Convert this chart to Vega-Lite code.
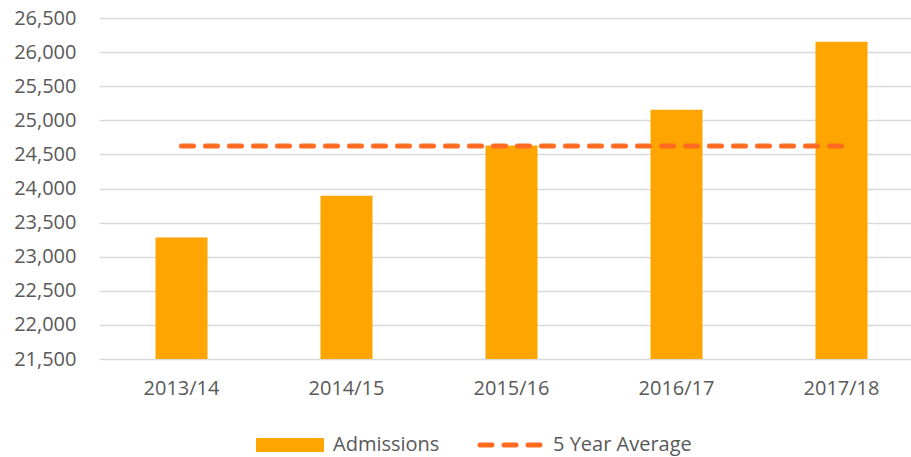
{
  "$schema": "https://vega.github.io/schema/vega-lite/v6.json",
  "width": 812,
  "height": 341,
  "autosize": "none",
  "padding": {"left": 99, "top": 18, "right": 0, "bottom": 98},
  "background": "white",
  "config": {
    "font": "Open Sans",
    "view": {"stroke": null},
    "axisY": {
      "title": null,
      "domain": false,
      "ticks": false,
      "values": [21500, 22000, 22500, 23000, 23500, 24000, 24500, 25000, 25500, 26000, 26500],
      "format": ",d",
      "labelOverlap": false,
      "labelFlush": false,
      "labelFontSize": 20,
      "labelColor": "#595959",
      "labelPadding": 23,
      "labelFont": "Open Sans",
      "gridColor": "#D9D9D9",
      "gridWidth": 1.5
    }
  },
  "data": {
    "values": [
      {"year": "2013/14", "admissions": 23280, "avg": 24625, "base": 21500},
      {"year": "2014/15", "admissions": 23895, "avg": 24625, "base": 21500},
      {"year": "2015/16", "admissions": 24630, "avg": 24625, "base": 21500},
      {"year": "2016/17", "admissions": 25155, "avg": 24625, "base": 21500},
      {"year": "2017/18", "admissions": 26150, "avg": 24625, "base": 21500}
    ]
  },
  "encoding": {
    "x": {
      "field": "year",
      "type": "ordinal",
      "sort": null,
      "scale": {"range": [0, 825], "paddingInner": 0, "paddingOuter": 0},
      "axis": {
        "title": null,
        "domain": false,
        "ticks": false,
        "labelAngle": 0,
        "labelFontSize": 20,
        "labelColor": "#595959",
        "labelPadding": 19,
        "labelFont": "Open Sans"
      }
    }
  },
  "layer": [
    {
      "mark": {"type": "bar", "size": 52},
      "encoding": {
        "y": {
          "field": "admissions",
          "type": "quantitative",
          "scale": {"domain": [21500, 26500], "zero": false, "nice": false},
          "axis": {
            "values": [21500, 22000, 22500, 23000, 23500, 24000, 24500, 25000, 25500, 26000, 26500],
            "labelOverlap": false
          }
        },
        "y2": {"field": "base"},
        "color": {
          "datum": "Admissions",
          "type": "nominal",
          "scale": {"domain": ["Admissions", "5 Year Average"], "range": ["#FFA500", "#FF6B21"]},
          "legend": {
            "title": null,
            "orient": "none",
            "direction": "horizontal",
            "legendX": 181,
            "legendY": 417,
            "padding": 0,
            "symbolSize": 4624,
            "labelFontSize": 20,
            "labelColor": "#595959",
            "labelFont": "Open Sans",
            "labelOffset": 33,
            "columnPadding": 30,
            "encode": {
              "symbols": {
                "update": {
                  "shape": {"signal": "datum.value === 'Admissions' ? 'M-1,-0.206H1V0.206H-1Z' : 'M-0.882,0H0.882'"},
                  "strokeDash": {"signal": "datum.value === 'Admissions' ? [] : [12, 12]"},
                  "strokeWidth": {"signal": "datum.value === 'Admissions' ? 0 : 5"},
                  "strokeCap": {"value": "round"},
                  "fill": {"signal": "datum.value === 'Admissions' ? '#FFA500' : 'transparent'"},
                  "stroke": {"signal": "datum.value === 'Admissions' ? 'transparent' : '#FF6B21'"},
                  "opacity": {"value": 1}
                }
              }
            }
          }
        }
      }
    },
    {
      "mark": {"type": "line", "strokeDash": [12, 12], "strokeWidth": 5, "strokeCap": "round"},
      "encoding": {
        "y": {
          "field": "avg",
          "type": "quantitative",
          "axis": {
            "values": [21500, 22000, 22500, 23000, 23500, 24000, 24500, 25000, 25500, 26000, 26500],
            "labelOverlap": false
          }
        },
        "color": {"datum": "5 Year Average", "type": "nominal"}
      }
    }
  ]
}
